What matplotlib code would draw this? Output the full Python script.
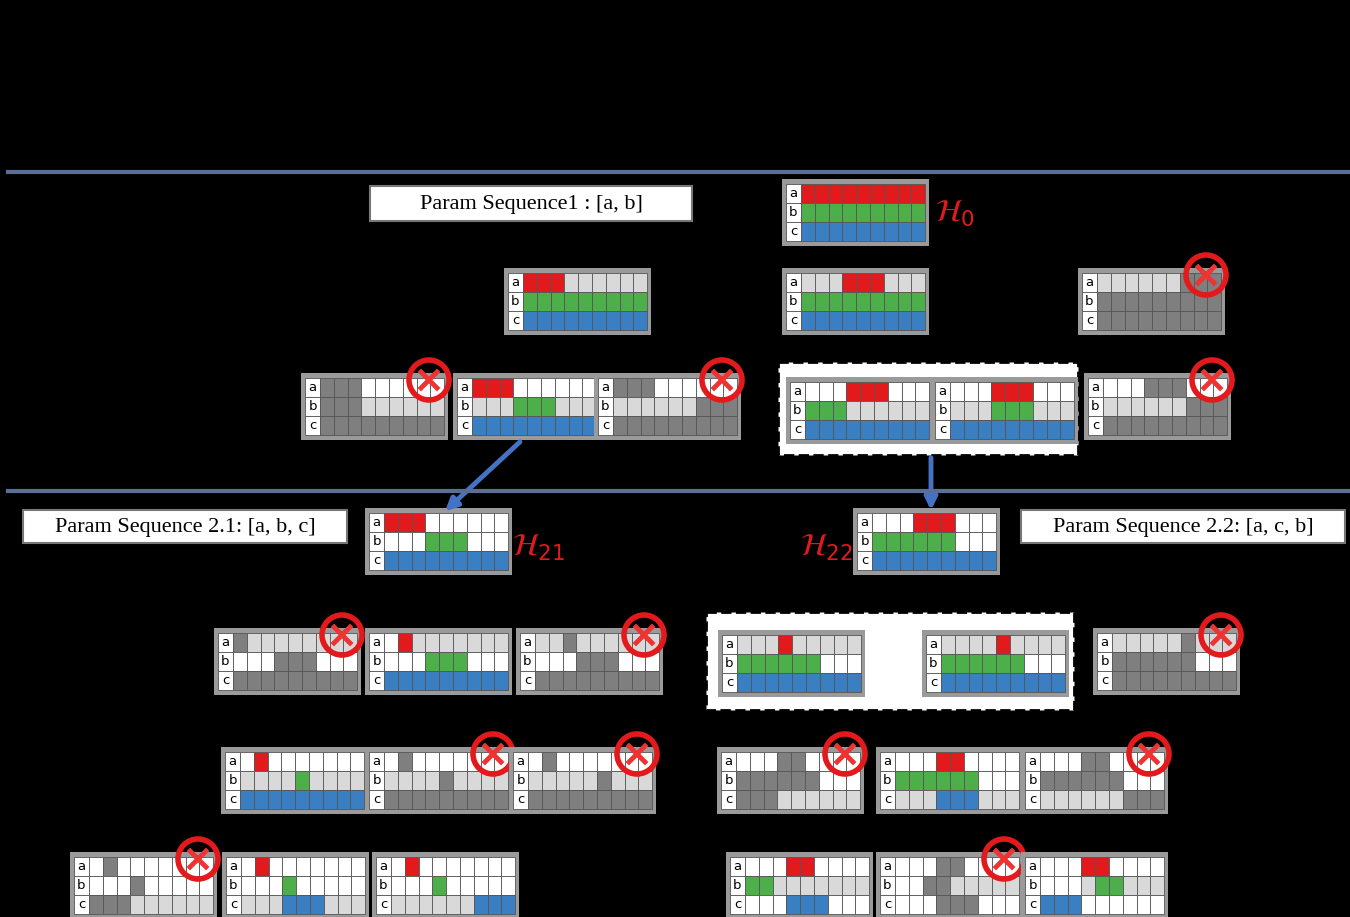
import matplotlib
matplotlib.use('Agg')
import matplotlib.pyplot as plt
from matplotlib.patches import Rectangle, Circle, FancyArrowPatch

#----------Data: grids as (x, y, rows a/b/c, crossed)----------#

grid_x = [786, 508, 786, 1082, 305, 457, 598, 790, 935, 1088, 369, 857,
          218, 369, 520, 722, 926, 1097, 225, 369, 513, 721, 880, 1025,
          74, 226, 376, 730, 880, 1025]
grid_y = [184, 273, 273, 273, 378, 378, 378, 382, 382, 378, 513, 513,
          633, 633, 633, 635, 635, 633, 752, 752, 752, 752, 752, 752,
          857, 857, 857, 857, 857, 857]
grid_rows = [
    ['RRRRRRRRR', 'GGGGGGGGG', 'BBBBBBBBB'],
    ['RRRLLLLLL', 'GGGGGGGGG', 'BBBBBBBBB'],
    ['LLLRRRLLL', 'GGGGGGGGG', 'BBBBBBBBB'],
    ['LLLLLLDDD', 'DDDDDDDDD', 'DDDDDDDDD'],
    ['DDDWWWWWW', 'DDDLLLLLL', 'DDDDDDDDD'],
    ['RRRWWWWWW', 'LLLGGGLLL', 'BBBBBBBBB'],
    ['DDDWWWWWW', 'LLLLLLDDD', 'DDDDDDDDD'],
    ['WWWRRRWWW', 'GGGLLLLLL', 'BBBBBBBBB'],
    ['WWWRRRWWW', 'LLLGGGLLL', 'BBBBBBBBB'],
    ['WWWDDDWWW', 'LLLLLLDDD', 'DDDDDDDDD'],
    ['RRRWWWWWW', 'WWWGGGWWW', 'BBBBBBBBB'],
    ['WWWRRRWWW', 'GGGGGGWWW', 'BBBBBBBBB'],
    ['DLLLLLLLL', 'WWWDDDWWW', 'DDDDDDDDD'],
    ['WRLLLLLLL', 'WWWGGGWWW', 'BBBBBBBBB'],
    ['LLDLLLLLL', 'WWWDDDWWW', 'DDDDDDDDD'],
    ['LLLRLLLLL', 'GGGGGGWWW', 'BBBBBBBBB'],
    ['LLLLRLLLL', 'GGGGGGWWW', 'BBBBBBBBB'],
    ['LLLLLDLLL', 'DDDDDDWWW', 'DDDDDDDDD'],
    ['WRWWWWWWW', 'LLLLGLLLL', 'BBBBBBBBB'],
    ['WDWWWWWWW', 'LLLLDLLLL', 'DDDDDDDDD'],
    ['WDWWWWWWW', 'LLLLLDLLL', 'DDDDDDDDD'],
    ['WWWDDWWWW', 'DDDDDDWWW', 'DDDLLLLLL'],
    ['WWWRRWWWW', 'GGGGGGWWW', 'LLLBBBLLL'],
    ['WWWDDWWWW', 'DDDDDDWWW', 'LLLLLLDDD'],
    ['WDWWWWWWW', 'WWWDWWWWW', 'DDDLLLLLL'],
    ['WRWWWWWWW', 'WWWGWWWWW', 'LLLBBBLLL'],
    ['WRWWWWWWW', 'WWWGWWWWW', 'LLLLLLBBB'],
    ['WWWRRWWWW', 'GGLLLLLLL', 'WWWBBBWWW'],
    ['WWWDDWWWW', 'WWDDLLLLL', 'WWWDDDWWW'],
    ['WWWRRWWWW', 'WWWLGGLLL', 'BBBWWWWWW'],
]
grid_cross = [0, 0, 0, 1, 1, 0, 1, 0, 0, 1, 0, 0,
              1, 0, 1, 0, 0, 1, 0, 1, 1, 1, 0, 1,
              1, 0, 0, 0, 1, 0]

seq_labels = ['Param Sequence1 : [a, b]', 'Param Sequence 2.1: [a, b, c]', 'Param Sequence 2.2: [a, c, b]']
seq_boxes = [(370, 186, 322, 35), (23, 510, 324, 33), (1021, 510, 324, 33)]
h_labels = [r'$\mathcal{H}_0$', r'$\mathcal{H}_{21}$', r'$\mathcal{H}_{22}$']
h_pos = [(935, 214), (512, 548), (800, 548)]
dashed_boxes = [(778, 362, 300, 93), (706, 612, 368, 98)]

colors = {'R': '#e31a1c', 'G': '#4daf4a', 'B': '#3a7fc1',
          'W': 'white', 'L': '#d9d9d9', 'D': '#7f7f7f'}

#----------Drawing----------#

fig = plt.figure(figsize=(13.5, 9.17), dpi=100, facecolor='black')
ax = fig.add_axes([0, 0, 1, 1])
ax.set_facecolor('black')
ax.set_xlim(0, 1350)
ax.set_ylim(917, 0)
ax.axis('off')

for y in [172, 491]:
    ax.plot([8, 1350], [y, y], color='#5b6f94', lw=3)

for (x, y, w, h) in dashed_boxes:
    ax.add_patch(Rectangle((x, y), w, h, facecolor='white', edgecolor='black', ls='--', lw=2))

label_w, cell_w, row_h = 15, 13.8, 19
for x, y, rows, cross in zip(grid_x, grid_y, grid_rows, grid_cross):
    ax.add_patch(Rectangle((x - 4, y - 5), label_w + 9 * cell_w + 8, 3 * row_h + 10,
                           facecolor='#9a9a9a', edgecolor='none'))
    for r, (name, row) in enumerate(zip('abc', rows)):
        yy = y + r * row_h
        ax.add_patch(Rectangle((x, yy), label_w, row_h, facecolor='white', edgecolor='#555', lw=0.6))
        ax.text(x + label_w / 2, yy + row_h / 2, name, ha='center', va='center', fontsize=9.5)
        for c, ch in enumerate(row):
            ax.add_patch(Rectangle((x + label_w + c * cell_w, yy), cell_w, row_h,
                                   facecolor=colors[ch], edgecolor='#555', lw=0.6))
    if cross:
        cx, cy = x + 124, y + 2
        ax.add_patch(Circle((cx, cy), 20, facecolor='none', edgecolor='#e31a1c', lw=4))
        ax.plot([cx - 8, cx + 8], [cy - 8, cy + 8], color='#ee3333', lw=3.5)
        ax.plot([cx - 8, cx + 8], [cy + 8, cy - 8], color='#ee3333', lw=3.5)

for text, (x, y, w, h) in zip(seq_labels, seq_boxes):
    ax.add_patch(Rectangle((x, y), w, h, facecolor='white', edgecolor='#777', lw=1.5))
    ax.text(x + w / 2, y + h / 2 + 1, text, ha='center', va='center',
            fontsize=16, family='Liberation Serif')

for text, (x, y) in zip(h_labels, h_pos):
    ax.text(x, y, text, color='#e31a1c', fontsize=22, fontweight='bold', ha='left', va='center')

for (x0, y0), (x1, y1) in [((522, 440), (443, 513)), ((931, 455), (931, 513))]:
    ax.add_patch(FancyArrowPatch((x0, y0), (x1, y1), arrowstyle='-|>', mutation_scale=18,
                                 color='#4472c4', lw=3.5))

plt.savefig('out.png', dpi=100, facecolor='black')
